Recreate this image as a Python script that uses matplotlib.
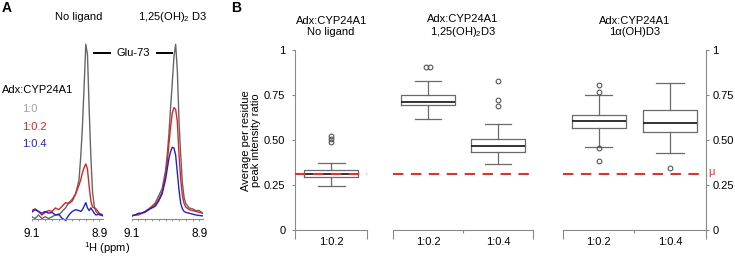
import matplotlib.pyplot as plt
from matplotlib.lines import Line2D
from matplotlib.ticker import MultipleLocator, FixedLocator
import matplotlib.transforms as mtransforms

plt.rcParams["font.family"] = ["Liberation Sans", "DejaVu Sans"]
plt.rcParams["mathtext.fontset"] = "custom"
plt.rcParams["mathtext.rm"] = "Liberation Sans"
plt.rcParams["mathtext.it"] = "Liberation Sans:italic"
plt.rcParams["font.size"] = 8

# ---- panel A: 1H slices through the Glu-73 peak ----
ppm_free = [9.100, 9.090, 9.080, 9.070, 9.060, 9.050, 9.040, 9.030, 9.020, 9.010,
            9.000, 8.990, 8.980, 8.970, 8.960, 8.955, 8.950, 8.945, 8.940, 8.935,
            8.930, 8.925, 8.920, 8.915, 8.910, 8.900, 8.890]
free_1to0 = [0.01, 0.0, 0.02, 0.0, 0.01, 0.0, 0.01, 0.02, 0.02, 0.04,
             0.06, 0.09, 0.11, 0.14, 0.22, 0.35, 0.52, 0.75, 0.99, 0.93,
             0.62, 0.35, 0.15, 0.07, 0.04, 0.02, 0.02]
free_1to02 = [0.045, 0.055, 0.04, 0.02, 0.035, 0.045, 0.04, 0.06, 0.05, 0.07,
              0.09, 0.085, 0.10, 0.14, 0.19, 0.22, 0.26, 0.29, 0.31, 0.28,
              0.18, 0.10, 0.065, 0.06, 0.055, 0.03, 0.02]
free_1to04 = [0.036, 0.05, 0.04, 0.03, 0.04, 0.03, 0.035, 0.02, 0.025, 0.0,
              -0.01, 0.02, 0.04, 0.05, 0.045, 0.04, 0.05, 0.07, 0.09, 0.06,
              0.045, 0.06, 0.045, 0.03, 0.02, 0.025, 0.015]

ppm_bound = [9.100, 9.090, 9.080, 9.070, 9.060, 9.050, 9.040, 9.030, 9.020, 9.010,
             9.000, 8.995, 8.990, 8.985, 8.980, 8.975, 8.970, 8.965, 8.960, 8.955,
             8.950, 8.945, 8.940, 8.930, 8.920, 8.910, 8.900, 8.890]
bound_1to0 = [0.015, 0.02, 0.025, 0.03, 0.04, 0.055, 0.07, 0.09, 0.13, 0.17,
              0.27, 0.36, 0.48, 0.63, 0.77, 0.92, 0.99, 0.84, 0.55, 0.36,
              0.20, 0.12, 0.085, 0.06, 0.055, 0.045, 0.045, 0.03]
bound_1to02 = [0.015, 0.02, 0.02, 0.03, 0.035, 0.05, 0.065, 0.08, 0.11, 0.15,
               0.25, 0.32, 0.42, 0.52, 0.60, 0.63, 0.62, 0.55, 0.36, 0.22,
               0.13, 0.085, 0.065, 0.05, 0.045, 0.04, 0.035, 0.03]
bound_1to04 = [0.015, 0.02, 0.03, 0.03, 0.04, 0.05, 0.06, 0.07, 0.10, 0.14,
               0.22, 0.28, 0.34, 0.38, 0.405, 0.40, 0.36, 0.26, 0.16, 0.085,
               0.055, 0.04, 0.035, 0.03, 0.025, 0.02, 0.017, 0.015]

ratio_labels = ["1:0", "1:0.2", "1:0.4"]
ratio_colors = ["#666666", "#dd2222", "#2222cc"]
ratio_text_colors = ["#a0a0a0", "#dd2222", "#2222cc"]

# ---- panel B: per-residue peak intensity ratios ----
group_titles = ["Adx:CYP24A1\nNo ligand",
                "Adx:CYP24A1\n1,25(OH)$_2$D3",
                "Adx:CYP24A1\n1\u03b1(OH)D3"]
group_sizes = [1, 2, 2]
box_labels = ["1:0.2", "1:0.2", "1:0.4", "1:0.2", "1:0.4"]
whislo = [0.244, 0.619, 0.369, 0.463, 0.428]
q1 = [0.295, 0.693, 0.432, 0.568, 0.543]
med = [0.311, 0.713, 0.467, 0.607, 0.594]
q3 = [0.335, 0.750, 0.504, 0.641, 0.665]
whishi = [0.376, 0.828, 0.590, 0.750, 0.818]
fliers = [[0.487, 0.505, 0.524],
          [0.904, 0.904],
          [0.690, 0.725, 0.828],
          [0.383, 0.456, 0.765, 0.806],
          [0.344]]
mean_ratio = 0.311
y_ticks = [0, 0.25, 0.5, 0.75, 1]
y_ticklabels = ["0", "0.25", "0.50", "0.75", "1"]

W, H = 735, 257
fig = plt.figure(figsize=(W / 100, H / 100), dpi=100)


def px_axes(x0, y0, x1, y1):
    return fig.add_axes([x0 / W, 1 - y1 / H, (x1 - x0) / W, (y1 - y0) / H])


def fig_text(x, y, s, **kw):
    fig.text(x / W, 1 - y / H, s, **kw)


def flier_offsets(values, step=0.06):
    out = []
    for i, v in enumerate(values):
        same = [j for j, u in enumerate(values) if abs(u - v) < 1e-6]
        k = same.index(i)
        out.append((k - (len(same) - 1) / 2) * step)
    return out


# spectra
spine_gray = "#8a8a8a"
spectra = [(ppm_free, [free_1to0, free_1to02, free_1to04], (31.7, 102.7)),
           (ppm_bound, [bound_1to0, bound_1to02, bound_1to04], (131.7, 202.7))]
for ppm, traces, (x0, x1) in spectra:
    ax = px_axes(x0, 218.5 - 1.05 * 176, x1, 218.5 + 0.05 * 176)
    for trace, color in zip(traces, ratio_colors):
        ax.plot(ppm, trace, color=color, lw=1.0)
    ax.set_xlim(9.1, 8.89)
    ax.set_ylim(-0.05, 1.05)
    for side in ["left", "top", "right"]:
        ax.spines[side].set_visible(False)
    ax.spines["bottom"].set_position(("data", 0))
    ax.spines["bottom"].set_color(spine_gray)
    ax.set_yticks([])
    ax.set_xticks([9.1, 8.9])
    ax.set_xticklabels(["9.1", "8.9"])
    ax.xaxis.set_minor_locator(MultipleLocator(0.02))
    ax.tick_params(axis="x", which="both", length=1.5, width=0.6,
                   color=spine_gray, pad=5, labelsize=8.5)

fig_text(79, 17, "No ligand", ha="center", va="center")
fig_text(173, 17, "1,25(OH)$_2$ D3", ha="center", va="center")
fig_text(133.5, 53, "Glu-73", ha="center", va="center")
fig.add_artist(Line2D([94 / W, 110 / W], [1 - 53 / H] * 2, color="black", lw=1.4))
fig.add_artist(Line2D([157 / W, 172 / W], [1 - 53 / H] * 2, color="black", lw=1.4))
fig_text(2, 90, "Adx:CYP24A1", ha="left", va="center")
for i, (lab, c) in enumerate(zip(ratio_labels, ratio_text_colors)):
    fig_text(22, 109 + 17.5 * i, lab, ha="left", va="center", color=c)
fig_text(107, 248, "$^1$H (ppm)", ha="center", va="center")
fig_text(2, 8, "A", ha="left", va="center", fontsize=10, fontweight="bold")
fig_text(231, 8, "B", ha="left", va="center", fontsize=10, fontweight="bold")

# box plots
group_px = [(295.3, 367), (393, 533), (563, 705.7)]
start = 0
for g, ((x0, x1), n, title) in enumerate(zip(group_px, group_sizes, group_titles)):
    ax = px_axes(x0, 50, x1, 230.3)
    idx = range(start, start + n)
    start += n
    stats = [dict(whislo=whislo[i], q1=q1[i], med=med[i], q3=q3[i], whishi=whishi[i])
             for i in idx]
    pos = [k + 0.5 for k in range(n)]
    ax.bxp(stats, positions=pos, widths=0.76, capwidths=0.38, showfliers=False,
           boxprops=dict(color="#6a6a6a", lw=0.9),
           whiskerprops=dict(color="#6a6a6a", lw=0.9),
           capprops=dict(color="#6a6a6a", lw=0.9),
           medianprops=dict(color="#222222", lw=1.3))
    for k, i in enumerate(idx):
        offs = flier_offsets(fliers[i])
        ax.plot([pos[k] + o for o in offs], fliers[i], ls="none", marker="o",
                ms=3.4, mfc="none", mec="#555555", mew=0.8)
    ax.plot([0, n], [mean_ratio, mean_ratio], color="#dd3333", lw=1.5,
            dashes=(5, 3.6), zorder=4, clip_on=False)
    ax.set_xlim(0, n)
    ax.set_ylim(0, 1)
    ax.set_title(title, fontsize=8, pad=11, linespacing=1.05)

    for side in ["left", "top", "right"]:
        ax.spines[side].set_visible(False)
    ax.spines["bottom"].set_color(spine_gray)
    ax.xaxis.set_major_locator(FixedLocator(list(range(n + 1))))
    ax.set_xticklabels([])
    ax.set_xticks(pos, [box_labels[i] for i in idx], minor=True)
    ax.tick_params(axis="x", which="major", length=6.5, width=0.8, color=spine_gray)
    ax.tick_params(axis="x", which="minor", length=0, pad=4.5, labelsize=8)
    if n > 1:
        ax.xaxis.get_major_ticks()[1].tick1line.set_markersize(2)

    if g == 0:
        ax.spines["left"].set_visible(True)
        ax.spines["left"].set_color(spine_gray)
        ax.set_yticks(y_ticks, y_ticklabels)
        ax.tick_params(axis="y", length=2.2, width=0.8, color=spine_gray,
                       pad=5, labelsize=8)
        ax.set_ylabel("Average per residue\npeak intensity ratio", labelpad=2,
                      linespacing=1.05)
    elif g == len(group_px) - 1:
        ax.spines["right"].set_visible(True)
        ax.spines["right"].set_color(spine_gray)
        ax.yaxis.tick_right()
        ax.set_yticks(y_ticks, y_ticklabels)
        ax.tick_params(axis="y", length=2.2, width=0.8, color=spine_gray,
                       pad=2.5, labelsize=8)
        trans = mtransforms.blended_transform_factory(ax.transAxes, ax.transData)
        ax.text(1.02, mean_ratio + 0.01, "\u03bc", transform=trans, color="#dd3333",
                ha="left", va="center", fontsize=8)
    else:
        ax.set_yticks([])

fig.savefig("out.png", dpi=100)
